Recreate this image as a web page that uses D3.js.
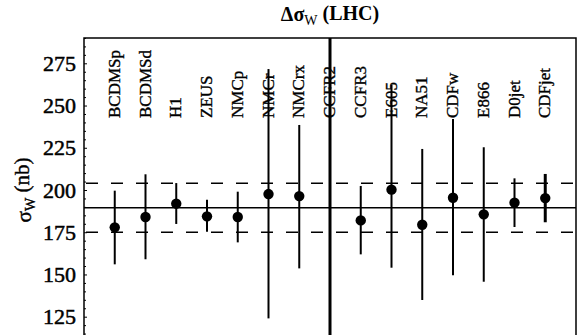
<!DOCTYPE html>
<html><head><meta charset="utf-8">
<script src="https://cdn.jsdelivr.net/npm/d3@7"></script>
<style>
html,body{margin:0;padding:0;background:#fff;}
svg{display:block;}
</style></head>
<body>
<svg id="chart" width="581" height="335" font-family="'Liberation Serif', 'DejaVu Serif', 'Times New Roman', Times, serif"></svg>
<script>
// ---- data ----
const experiments = ["BCDMSp","BCDMSd","H1","ZEUS","NMCp","NMCr","NMCrx","CCFR2","CCFR3","E605","NA51","CDFw","E866","D0jet","CDFjet"];
const sigmaCentral = [177.9,184.0,191.9,184.4,184.0,197.6,196.4,100.0,182.0,200.2,179.4,195.4,185.6,192.5,195.2];
const sigmaLow     = [156.0,159.0,179.9,175.3,169.0,124.0,153.6, 40.0,161.9,154.0,134.9,149.5,145.7,178.1,180.9];
const sigmaHigh    = [199.6,209.3,204.1,194.2,199.0,271.6,238.5,320.0,202.4,262.2,224.3,242.0,225.3,206.9,209.5];
const globalCentral = 189.5;
const globalBand = [175.0, 204.0];
const yTicks = [125,150,175,200,225,250,275];

(function(){
// ---- layout ----
const svg = d3.select("#chart");
const pLeft = 84, pRight = 576;
const y = d3.scaleLinear().domain([125,275]).range([316.7,63.3]);
const pTop = y(290), pBottom = 345;
const x = d3.scalePoint().domain(experiments).range([pLeft,pRight]).padding(1);
const serif = "'Liberation Serif', 'DejaVu Serif', serif";

const defs = svg.append("defs");
defs.append("clipPath").attr("id","plotclip").append("rect")
  .attr("x",pLeft).attr("y",pTop).attr("width",pRight-pLeft).attr("height",pBottom-pTop);

const plot = svg.append("g").attr("clip-path","url(#plotclip)");

// reference lines
plot.append("line").attr("x1",pLeft).attr("x2",pRight)
  .attr("y1",y(globalCentral)).attr("y2",y(globalCentral))
  .attr("stroke","#000").attr("stroke-width",1.5);
globalBand.forEach(v=>{
  plot.append("line").attr("x1",pLeft+2).attr("x2",pRight)
    .attr("y1",y(v)).attr("y2",y(v))
    .attr("stroke","#000").attr("stroke-width",1.5)
    .attr("stroke-dasharray","12,13");
});

// category labels
svg.append("g").selectAll("text").data(experiments).join("text")
  .attr("transform",d=>`translate(${x(d)+5},118) rotate(-90)`)
  .attr("text-anchor","start")
  .style("font-family",serif)
  .style("font-size","17px")
  .attr("stroke","#000").attr("stroke-width",0.35)
  .text(d=>d);

// error bars
const thick = {CCFR2:3, CDFjet:3};
plot.append("g").selectAll("line").data(experiments).join("line")
  .attr("x1",d=>x(d)).attr("x2",d=>x(d))
  .attr("y1",(d,i)=>y(sigmaLow[i])).attr("y2",(d,i)=>y(sigmaHigh[i]))
  .attr("stroke","#000").attr("stroke-width",d=>thick[d]||2);

plot.append("g").selectAll("circle").data(experiments).join("circle")
  .attr("cx",d=>x(d)).attr("cy",(d,i)=>y(sigmaCentral[i])).attr("r",5.2)
  .attr("fill","#000");

// frame
svg.append("path")
  .attr("d",`M${pLeft},${pBottom}V${pTop}H${pRight}V${pBottom}`)
  .attr("fill","none").attr("stroke","#000").attr("stroke-width",1.5);

// y axis ticks (inward)
const yAxis = d3.axisRight(y).tickValues(yTicks).tickSize(3).tickFormat("");
const yg = svg.append("g").attr("transform",`translate(${pLeft},0)`).call(yAxis);
yg.select(".domain").remove();
yg.selectAll("line").attr("stroke-width",1);
const minor = d3.range(115,291,5).filter(v=>v%25!==0);
const ym = d3.axisRight(y).tickValues(minor).tickSize(2).tickFormat("");
const ymg = svg.append("g").attr("transform",`translate(${pLeft},0)`).call(ym);
ymg.select(".domain").remove();
ymg.selectAll("line").attr("stroke-width",1);

// tick labels
svg.append("g").selectAll("text").data(yTicks).join("text")
  .attr("x",pLeft-8).attr("y",d=>y(d)).attr("dy","0.35em")
  .attr("text-anchor","end")
  .style("font-family",serif).style("font-size","22px")
  .attr("stroke","#000").attr("stroke-width",0.5)
  .text(d=>d);

// y axis title
const yt = svg.append("text").attr("transform","translate(31,190) rotate(-90)")
  .attr("text-anchor","middle").style("font-family",serif).style("font-size","21px")
  .attr("stroke","#000").attr("stroke-width",0.4);
yt.append("tspan").text("σ");
yt.append("tspan").attr("dy","0.25em").style("font-size","14px").text("W");
yt.append("tspan").attr("dy","-0.25em").text(" (nb)");

// chart title
const tt = svg.append("text").attr("x",(pLeft+pRight)/2).attr("y",21)
  .attr("text-anchor","middle").style("font-family",serif).style("font-size","20px").style("font-weight","bold");
tt.append("tspan").text("Δσ");
tt.append("tspan").attr("dy","0.25em").style("font-size","14px").style("font-weight","normal").text("W");
tt.append("tspan").attr("dy","-0.25em").text(" (LHC)");
})();
</script>
</body></html>
